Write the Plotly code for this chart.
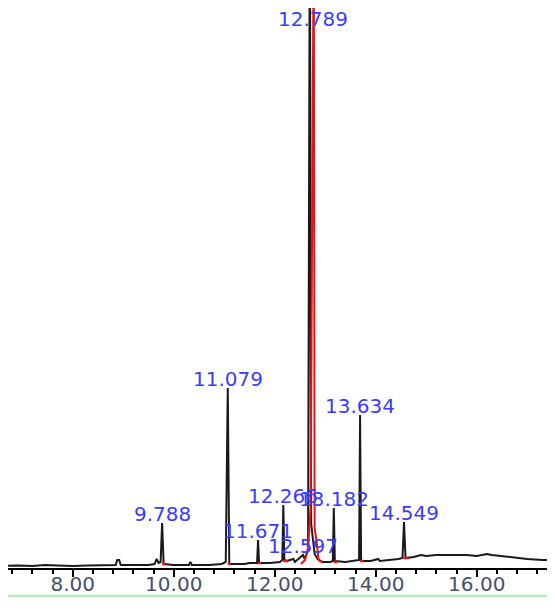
import plotly.graph_objects as go

# chromatogram trace: retention time (min) vs abundance (arbitrary units)
rt = [6.56, 6.9, 7.2, 7.45, 7.7, 8.0, 8.3, 8.6, 8.85, 8.88, 8.92, 8.95, 9.2, 9.5,
      9.62, 9.66, 9.70, 9.74, 9.77, 9.80, 10.0, 10.3, 10.33, 10.36, 10.7, 10.95,
      11.03, 11.07, 11.10, 11.4, 11.5, 11.65, 11.67, 11.69, 11.9, 12.1, 12.15,
      12.17, 12.19, 12.25, 12.30, 12.37, 12.40, 12.50, 12.56, 12.59, 12.66,
      12.69, 12.70, 12.72, 12.76, 12.79, 12.85, 12.95, 13.1, 13.15, 13.17,
      13.19, 13.4, 13.6, 13.67, 13.69, 13.71, 13.9, 14.05, 14.08, 14.3, 14.45,
      14.53, 14.56, 14.59, 14.75, 14.9, 15.0, 15.2, 15.5, 15.8, 16.0, 16.2, 16.3,
      16.6, 17.0, 17.3, 17.55]
abundance = [2, 2.5, 2, 3, 2.5, 2, 2.5, 3, 3, 8, 8, 3, 3, 3,
             4, 9, 5, 6, 45, 4, 3, 3, 6, 3, 3, 4,
             6, 180, 4, 4, 5, 5, 28, 5, 5, 6, 8,
             63, 8, 7, 8, 9, 6, 10, 13, 9, 18,
             570, 570, 45, 30, 14, 9, 6, 6, 7, 60,
             7, 6, 7, 8, 153, 7, 7, 9, 7, 8, 9,
             10, 46, 10, 11, 13, 12, 13, 13, 13, 12, 14, 13,
             11, 9, 8, 8]

# integrated main peak (drawn in red)
main_rt = [12.52, 12.60, 12.66, 12.71, 12.765, 12.775, 12.79, 12.82, 12.87, 12.95]
main_abund = [4, 8, 20, 60, 570, 570, 40, 30, 8, 5]

# integration baseline marks
int_start = [9.77, 11.07, 11.67, 12.17, 13.17, 13.69, 14.55]
int_end = [9.84, 11.13, 11.73, 12.26, 13.24, 13.76, 14.65]
int_level = [4, 4, 5, 7, 6, 7, 10]

# peak labels
peak_labels = ["9.788", "11.079", "11.671", "12.266", "12.597", "12.789",
               "13.182", "13.634", "14.549"]
peak_apex = [9.77, 11.07, 11.67, 12.17, 12.56, 12.76, 13.17, 13.69, 14.56]
peak_height = [45, 180, 28, 63, 13, 570, 60, 153, 46]

tick_vals = [8, 10, 12, 14, 16]

fig = go.Figure()
fig.add_trace(go.Scatter(x=rt, y=abundance, mode="lines",
                         line=dict(color="#1a1a1a", width=2), hoverinfo="skip"))
fig.add_trace(go.Scatter(x=main_rt, y=main_abund, mode="lines",
                         line=dict(color="#ee1111", width=2), hoverinfo="skip"))

seg_x, seg_y = [], []
for a, b, lv in zip(int_start, int_end, int_level):
    seg_x += [a, b, None]
    seg_y += [lv, lv, None]
fig.add_trace(go.Scatter(x=seg_x, y=seg_y, mode="lines",
                         line=dict(color="#ee1111", width=2.5), hoverinfo="skip"))

# page body has an 8px margin, so the figure is sized to the visible area
for lab, x, h in zip(peak_labels, peak_apex, peak_height):
    if h > 500:
        fig.add_annotation(x=x, y=560, text=lab, showarrow=False,
                           yanchor="top", xanchor="center", yshift=3)
    else:
        fig.add_annotation(x=x, y=h, text=lab, showarrow=False,
                           yanchor="middle", xanchor="center", yshift=9)
fig.update_annotations(font=dict(family="DejaVu Sans", size=20, color="#3b3bff"))

fig.add_shape(type="line", xref="paper", yref="paper", x0=-0.02, x1=1.02,
              y0=-0.05, y1=-0.05, line=dict(color="#b6ecb6", width=2.5))

fig.update_layout(
    width=547, height=602,
    margin=dict(l=0, r=0, t=0, b=42),
    plot_bgcolor="white", paper_bgcolor="white",
    showlegend=False,
    xaxis=dict(range=[6.718, 17.55], tickvals=tick_vals, tickformat=".2f",
               showline=True, linecolor="black", linewidth=2,
               ticks="outside", ticklen=7, tickwidth=2, tickcolor="black",
               ticklabelstandoff=-10,
               tickfont=dict(family="DejaVu Sans", size=20, color="#45506e"),
               minor=dict(dtick=0.4, tick0=8, ticks="outside", ticklen=4,
                          tickwidth=1.5, tickcolor="black"),
               showgrid=False, zeroline=False),
    yaxis=dict(range=[0, 560], visible=False),
)

fig.write_html("out.html")
